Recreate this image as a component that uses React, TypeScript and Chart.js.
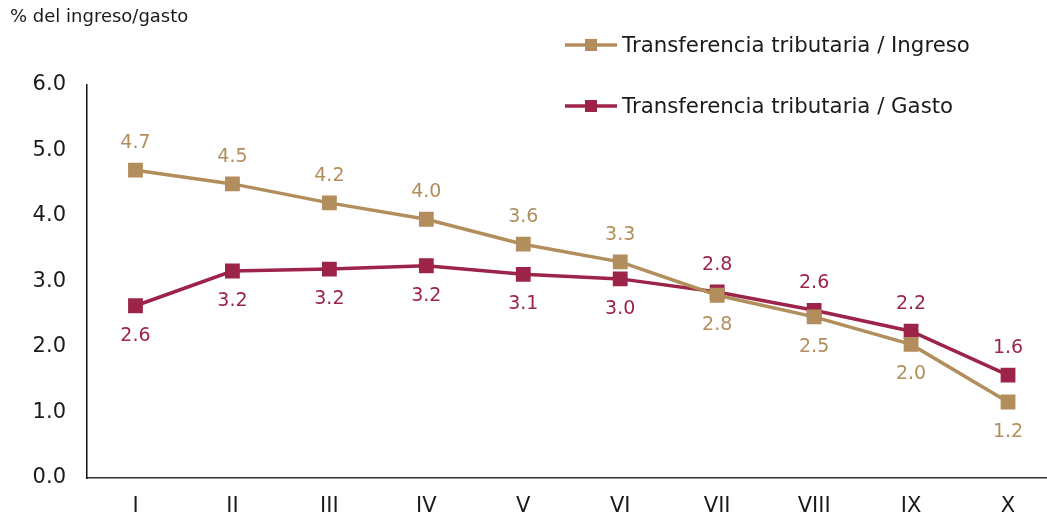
import React, { useEffect, useRef } from "react";
import { Chart, registerables } from "chart.js";

Chart.register(...registerables);

const categories = ["I", "II", "III", "IV", "V", "VI", "VII", "VIII", "IX", "X"];
const ingresoLabel = "Transferencia tributaria / Ingreso";
const gastoLabel = "Transferencia tributaria / Gasto";
const ingresoValues = [4.7, 4.49, 4.2, 3.95, 3.57, 3.3, 2.79, 2.46, 2.04, 1.16];
const gastoValues = [2.63, 3.16, 3.19, 3.24, 3.11, 3.04, 2.84, 2.56, 2.24, 1.57];
const yTicks = [0, 1, 2, 3, 4, 5, 6];
const unitTitle = "% del ingreso/gasto";

const GOLD = "#B38E5D";
const WINE = "#9D2449";
const FONT = "'DejaVu Sans', 'Open Sans', sans-serif";

const labelPlugin = {
  id: "valueLabels",
  afterDatasetsDraw(chart: any) {
    const ctx = chart.ctx;
    ctx.save();
    ctx.font = `19px ${FONT}`;
    ctx.textAlign = "center";
    ctx.textBaseline = "middle";
    const d0 = chart.data.datasets[0].data as number[];
    const d1 = chart.data.datasets[1].data as number[];
    chart.data.datasets.forEach((ds: any, di: number) => {
      const meta = chart.getDatasetMeta(di);
      ctx.fillStyle = ds.borderColor;
      meta.data.forEach((pt: any, i: number) => {
        const v = ds.data[i] as number;
        const other = di === 0 ? d1[i] : d0[i];
        const above = v >= other;
        const off = above ? -27 : 30;
        ctx.fillText(v.toFixed(1), pt.x, pt.y + off);
      });
    });
    ctx.restore();
  },
};

const legendPlugin = {
  id: "customLegend",
  afterDraw(chart: any) {
    const ctx = chart.ctx;
    ctx.save();
    ctx.font = `21.3px ${FONT}`;
    ctx.textBaseline = "middle";
    ctx.textAlign = "left";
    const rows = [45, 106];
    chart.data.datasets.forEach((ds: any, i: number) => {
      const y = rows[i];
      const x0 = 565;
      ctx.strokeStyle = ds.borderColor;
      ctx.lineWidth = 3.5;
      ctx.beginPath();
      ctx.moveTo(x0, y);
      ctx.lineTo(x0 + 52, y);
      ctx.stroke();
      ctx.fillStyle = ds.borderColor;
      ctx.fillRect(x0 + 26 - 6, y - 6, 12, 12);
      ctx.fillStyle = "#1a1a1a";
      ctx.fillText(ds.label, x0 + 57, y + 1);
    });
    ctx.font = `18px ${FONT}`;
    ctx.fillStyle = "#1a1a1a";
    ctx.fillText(unitTitle, 10, 17);
    ctx.restore();
  },
};

export default function App() {
  const ref = useRef<HTMLCanvasElement | null>(null);
  useEffect(() => {
    document.body.style.margin = "0";
    document.body.style.overflow = "hidden";
    const canvas = ref.current;
    if (!canvas) return;
    const chart = new Chart(canvas, {
      type: "line",
      data: {
        labels: categories,
        datasets: [
          {
            label: ingresoLabel,
            data: ingresoValues,
            borderColor: GOLD,
            backgroundColor: GOLD,
            borderWidth: 3.5,
            pointStyle: "rect",
            pointRadius: 8,
            pointHoverRadius: 8,
            tension: 0,
          },
          {
            label: gastoLabel,
            data: gastoValues,
            borderColor: WINE,
            backgroundColor: WINE,
            borderWidth: 3.5,
            pointStyle: "rect",
            pointRadius: 8,
            pointHoverRadius: 8,
            tension: 0,
          },
        ],
      },
      options: {
        animation: false,
        responsive: false,
        maintainAspectRatio: false,
        layout: { padding: { top: 85, left: 0, right: 0, bottom: 0 } },
        plugins: {
          legend: { display: false },
          tooltip: { enabled: false },
        },
        scales: {
          x: {
            offset: true,
            grid: { display: false, drawTicks: false },
            border: { display: true, color: "#333", width: 1.5 },
            ticks: { color: "#1a1a1a", font: { size: 21, family: FONT }, padding: 16 },
            afterFit(scale: any) {
              scale.height = 38;
              scale.paddingLeft = 0;
              scale.paddingRight = 0;
            },
          },
          y: {
            min: 0,
            max: 6,
            afterBuildTicks(scale: any) {
              scale.ticks = yTicks.map((v) => ({ value: v }));
            },
            grid: { display: false, drawTicks: false },
            border: { display: true, color: "#111", width: 1.5 },
            ticks: {
              color: "#1a1a1a",
              font: { size: 21, family: FONT },
              padding: 21,
              callback: (v: any) => Number(v).toFixed(1),
            },
            afterFit(scale: any) {
              scale.width = 87;
            },
          },
        },
      },
      plugins: [labelPlugin, legendPlugin],
    });
    return () => chart.destroy();
  }, []);
  return (
    <div style={{ position: "relative", width: 1047, height: 516, overflow: "hidden" }}>
      <canvas ref={ref} width={1068} height={516} style={{ position: "absolute", left: 0, top: 0, width: 1068, height: 516 }} />
    </div>
  );
}
